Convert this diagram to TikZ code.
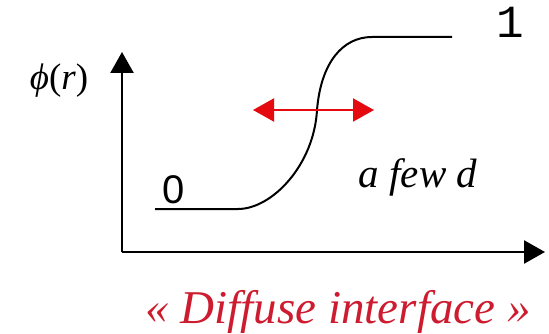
\documentclass[tikz,border=0pt]{standalone}
\usepackage{fontspec}
\usepackage{amsmath}
\setmainfont{Liberation Serif}
\newfontfamily\digitfont{Liberation Sans}
\newfontfamily\onefont{Liberation Mono}
\usetikzlibrary{arrows.meta}
\definecolor{arrowred}{RGB}{228,10,16}
\definecolor{textred}{RGB}{205,28,48}

\begin{document}
\begin{tikzpicture}[x=1pt,y=-1pt,
  axis/.style={line width=2.5pt,-{Triangle[length=21pt,width=23pt]}},
  profile/.style={line width=2pt},
  width arrow/.style={arrowred,line width=2pt,{Triangle[length=21pt,width=23pt]}-{Triangle[length=21pt,width=23pt]}}]
\useasboundingbox (0,0) rectangle (549,334);
% axes
\coordinate (o) at (122,252);
\coordinate (ytop) at (122,52);
\coordinate (xend) at (545,252);
\draw[axis] (o) -- (ytop);
\draw[axis] (o) -- (xend);
% phi profile
\coordinate (p0) at (155,209);
\coordinate (p1) at (238,209);
\coordinate (pm) at (317,110);
\coordinate (p2) at (372,37);
\coordinate (p3) at (452,37);
\draw[profile] (p0) -- (p1) .. controls (272,209) and (314,165) .. (pm)
  .. controls (321,62) and (343,37) .. (p2) -- (p3);
% interface width
\coordinate (wl) at (253,110);
\coordinate (wr) at (374,110);
\draw[width arrow] (wl) -- (wr);

\node (phi) at (59,81) {\fontsize{37}{40}\selectfont\textit{ϕ}(\textit{r})};
\node[anchor=base] (zero) at (174,204) {\fontsize{40}{44}\selectfont\digitfont 0};
\node[anchor=base] (one) at (510,38) {\fontsize{46}{48}\selectfont\onefont 1};
\node[anchor=base] (few) at (418,187) {\fontsize{41}{44}\selectfont\itshape a few d};
\node[anchor=base,textred] (diffuse) at (338,323) {\fontsize{47}{50}\selectfont\itshape « Diffuse interface »};
\end{tikzpicture}
\end{document}
